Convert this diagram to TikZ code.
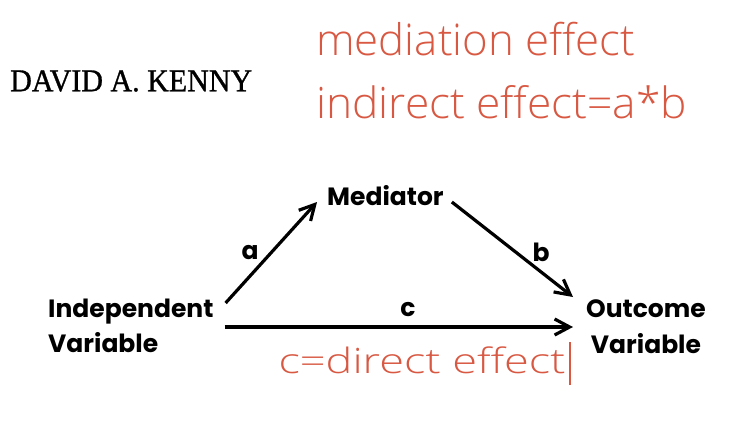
\documentclass[tikz,border=0pt]{standalone}
\usepackage{fontspec}
\setmainfont{Liberation Serif}
\newfontfamily\authorfont{Liberation Serif}[FakeBold=1]
\IfFontExistsTF{Open Sans Light}{\newfontfamily\redfont{Open Sans Light}}{\newfontfamily\redfont{Open Sans}}
\newfontfamily\lblfont{Poppins}
\usetikzlibrary{arrows.meta}
\definecolor{redtxt}{RGB}{216,88,66}
\begin{document}
\begin{tikzpicture}[x=1pt,y=-1pt,
  lbl/.style={font=\lblfont\bfseries\fontsize{25}{35.4}\selectfont, inner sep=0pt},
  conn/.style={line width=3.2pt, -{Straight Barb[length=15pt,width=16pt]}},
  redt/.style={text=redtxt, inner sep=0pt, anchor=base west, font=\redfont\fontsize{40}{40}\selectfont}]
\useasboundingbox (0,0) rectangle (754,426);
\fill[white] (0,0) rectangle (754,426);
\node[anchor=west, inner sep=0pt] (author) at (10,81) {\resizebox{242pt}{21pt}{\authorfont DAVID A. KENNY}};
\node[redt] (med) at (316,55) {\resizebox{319pt}{33.3pt}{mediation effect}};
\node[redt] (ind) at (316,118) {\resizebox{371pt}{33pt}{indirect effect=a*b}};
\node[lbl, anchor=base west] (mediator) at (327,205) {Mediator};
\node[lbl, anchor=base west, align=left] (indep) at (48,352.7) {Independent\\Variable};
\node[lbl, anchor=base west, align=center] (outcome) at (586,353.3) {Outcome\\Variable};
\draw[conn] ([shift={(12,-49.7)}]indep.base east) -- node[lbl, pos=0.5, left=11pt] (la) {a} ([shift={(-10,-3)}]mediator.base west);
\draw[conn] ([shift={(8,-3)}]mediator.base east) -- node[lbl, pos=0.53, right=15pt] (lb) {b} ([shift={(-13,-56.3)}]outcome.base west);
\draw[conn] ([shift={(11,-25.7)}]indep.base east) -- node[lbl, pos=0.526, above=9pt] (lc) {c} ([shift={(-13,-26.3)}]outcome.base west);
\node[redt] (dir) at (278.3,373.3) {\resizebox{287pt}{26.7pt}{c=direct effect}\hspace{3pt}\rule[-11.7pt]{2pt}{43.3pt}};
\end{tikzpicture}
\end{document}
